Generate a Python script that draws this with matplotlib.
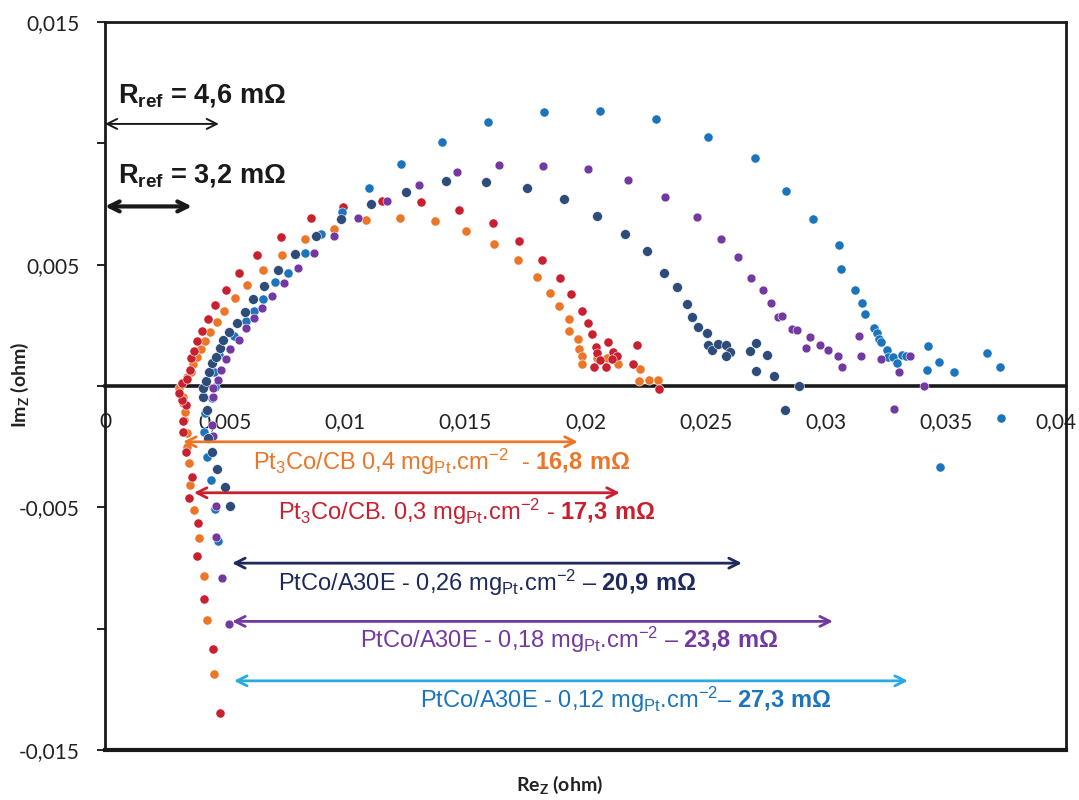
import numpy as np
import matplotlib
matplotlib.use("Agg")
import matplotlib.pyplot as plt
import matplotlib.transforms as mtransforms

plt.rcParams['mathtext.fontset'] = 'custom'
plt.rcParams['mathtext.rm'] = 'Liberation Sans'
plt.rcParams['mathtext.bf'] = 'Liberation Sans:bold'
plt.rcParams['mathtext.default'] = 'regular'

# ---- data (mOhm) ----
orange_re = [4.54, 4.24, 4.12, 3.91, 3.70, 3.54, 3.50, 3.41, 3.41, 3.29, 3.33, 3.25, 3.25, 3.08, 3.41,
             3.58, 3.66, 3.83, 4.00, 4.16, 4.37, 4.66, 4.95, 5.41, 5.91, 6.58, 7.37, 8.32, 9.53, 10.86,
             12.28, 13.73, 15.02, 16.19, 17.19, 17.98, 18.52, 18.89, 19.31, 19.31, 19.68, 19.73, 19.85,
             19.85, 20.47, 20.89, 21.35, 22.26, 22.22, 22.64, 23.01]
orange_im = [-11.87, -9.64, -7.83, -6.26, -5.11, -4.08, -3.17, -2.51, -1.94, -1.40, -1.07, -0.70, -0.45,
             -0.08, 0.37, 0.58, 0.91, 1.19, 1.52, 1.85, 2.22, 2.64, 3.09, 3.63, 4.16, 4.78, 5.40, 6.06,
             6.47, 6.84, 6.92, 6.80, 6.39, 5.85, 5.19, 4.49, 3.83, 3.30, 2.76, 2.27, 1.94, 1.52, 1.24,
             0.91, 1.15, 1.15, 0.91, 0.70, 0.21, 0.25, 0.25]

red_re = [4.79, 4.49, 4.12, 3.83, 3.87, 3.50, 3.62, 3.37, 3.25, 3.25, 3.37, 3.20, 3.08, 3.20, 3.41,
          3.54, 3.58, 3.70, 3.83, 4.04, 4.29, 4.58, 5.04, 5.58, 6.33, 7.32, 8.57, 9.90, 11.53, 13.15,
          14.73, 16.15, 17.23, 18.19, 18.93, 19.39, 19.85, 20.10, 20.27, 20.93, 20.43, 20.47, 20.60,
          20.85, 20.35, 21.14, 21.31, 21.10, 22.14, 21.97, 23.05]
red_im = [-13.47, -10.84, -8.78, -7.00, -5.64, -4.61, -3.75, -2.72, -1.90, -1.44, -0.78, -0.58, -0.29,
          0.12, 0.29, 0.66, 1.15, 1.44, 1.85, 2.27, 2.76, 3.34, 3.96, 4.66, 5.40, 6.14, 6.92, 7.38,
          7.62, 7.58, 7.25, 6.72, 5.97, 5.19, 4.45, 3.79, 3.09, 2.60, 2.14, 1.81, 1.61, 1.36, 1.07,
          0.78, 0.78, 1.40, 1.24, 1.11, 1.69, 0.91, -0.12]

navy_re = [5.20, 4.99, 4.66, 4.45, 4.29, 4.24, 4.08, 4.08, 4.20, 4.33, 4.45, 4.62, 4.79, 4.91, 5.16,
           5.49, 5.83, 6.16, 6.62, 7.20, 7.91, 8.78, 9.82, 11.07, 12.53, 14.19, 15.86, 17.56, 19.10,
           20.47, 21.64, 22.56, 23.26, 23.80, 24.22, 24.43, 24.68, 25.05, 25.09, 25.26, 25.51, 25.84,
           26.01, 25.84, 26.84, 27.09, 27.55, 27.09, 27.84, 28.88, 28.30]
navy_im = [-4.94, -4.16, -3.42, -2.72, -2.14, -0.99, -0.45, -0.08, 0.21, 0.58, 0.95, 1.19, 1.57, 1.90,
           2.22, 2.60, 3.05, 3.58, 4.12, 4.78, 5.44, 6.18, 6.88, 7.50, 7.99, 8.45, 8.41, 8.16, 7.70,
           7.00, 6.26, 5.56, 4.66, 4.08, 3.38, 2.84, 2.43, 2.18, 1.69, 1.48, 1.73, 1.69, 1.40, 1.24,
           1.44, 1.77, 1.28, 0.62, 0.41, 0.00, -0.99]

purple_re = [5.16, 4.87, 4.62, 4.62, 4.49, 4.45, 4.49, 4.49, 4.70, 4.83, 5.04, 5.20, 5.58, 5.87, 6.20,
             6.53, 6.95, 7.45, 8.03, 8.70, 9.53, 10.53, 11.74, 13.07, 14.65, 16.40, 18.23, 20.10,
             21.76, 23.30, 24.64, 25.63, 26.34, 26.88, 27.38, 27.72, 28.01, 28.17, 28.59, 28.80,
             29.34, 29.17, 29.75, 30.09, 30.50, 30.67, 31.38, 31.46, 32.29, 33.04, 33.50, 34.08, 32.83]
purple_im = [-9.81, -7.91, -6.22, -4.94, -2.06, -1.61, -0.45, -0.08, 0.25, 0.66, 1.11, 1.52, 1.90,
             2.39, 2.80, 3.21, 3.71, 4.24, 4.86, 5.48, 6.18, 6.92, 7.62, 8.28, 8.82, 9.11, 9.06, 8.94,
             8.49, 7.79, 6.96, 6.06, 5.32, 4.45, 3.96, 3.42, 2.84, 2.88, 2.35, 2.31, 2.02, 1.57, 1.69,
             1.48, 1.24, 0.78, 2.06, 1.24, 1.11, 0.58, 1.24, 0.00, -0.95]

blue_re = [4.70, 4.58, 4.41, 4.24, 4.12, 4.16, 4.45, 4.58, 4.54, 4.74, 5.20, 5.37, 5.87, 6.20, 6.58,
           7.07, 7.62, 8.32, 8.99, 9.86, 10.99, 12.32, 14.02, 15.94, 18.27, 20.60, 22.93, 25.09,
           27.05, 28.34, 29.46, 30.55, 30.63, 31.21, 31.50, 31.63, 32.00, 32.13, 32.21, 32.29, 32.54,
           32.58, 32.79, 32.96, 33.17, 33.33, 34.25, 34.21, 34.71, 35.33, 36.70, 37.25, 37.29, 34.75]
blue_im = [-6.39, -5.07, -3.87, -2.93, -1.90, -1.11, -0.49, -0.04, 0.58, 1.28, 1.52, 2.06, 2.68, 3.09,
           3.58, 4.29, 4.66, 5.48, 6.26, 7.17, 8.16, 9.15, 10.05, 10.88, 11.29, 11.33, 11.00, 10.26,
           9.39, 8.03, 6.88, 5.81, 4.82, 3.96, 3.42, 2.97, 2.39, 2.18, 1.94, 1.81, 1.48, 1.19, 1.19,
           0.95, 1.28, 1.24, 1.65, 0.66, 0.99, 0.58, 1.36, 0.78, -1.32, -3.34]

x_ticks = [0, 0.005, 0.01, 0.015, 0.02, 0.025, 0.03, 0.035, 0.04]
x_tick_labels = ['0', '0,005', '0,01', '0,015', '0,02', '0,025', '0,03', '0,035', '0,04']
y_ticks = [-0.015, -0.01, -0.005, 0, 0.005, 0.01, 0.015]
y_tick_labels = ['-0,015', '', '-0,005', '', '0,005', '', '0,015']

# annotation values (ohm)
rref_labels = ['R$_{ref}$ = 4,6 mΩ', 'R$_{ref}$ = 3,2 mΩ']
rref_end = [0.00474, 0.00362]
rref_y = [0.0108, 0.0074]
rref_text_y = [0.0117, 0.0084]

series_labels = [
    'Pt$_3$Co/CB 0,4 mg$_{Pt}$.cm$^{-2}$  - $\\mathbf{16{,}8\\ mΩ}$',
    'Pt$_3$Co/CB. 0,3 mg$_{Pt}$.cm$^{-2}$ - $\\mathbf{17{,}3\\ mΩ}$',
    'PtCo/A30E - 0,26 mg$_{Pt}$.cm$^{-2}$ – $\\mathbf{20{,}9\\ mΩ}$',
    'PtCo/A30E - 0,18 mg$_{Pt}$.cm$^{-2}$ – $\\mathbf{23{,}8\\ mΩ}$',
    'PtCo/A30E - 0,12 mg$_{Pt}$.cm$^{-2}$– $\\mathbf{27{,}3\\ mΩ}$',
]
arrow_start = [0.00325, 0.00370, 0.00529, 0.00529, 0.00537]
arrow_end = [0.01968, 0.02143, 0.02651, 0.03030, 0.03342]
arrow_y = [-0.0023, -0.0044, -0.0073, -0.0097, -0.01215]
label_x = [0.00616, 0.00720, 0.00720, 0.01061, 0.01311]
label_y = [-0.00346, -0.00552, -0.00845, -0.01080, -0.01327]

c_orange = '#EB7628'
c_red = '#C8202F'
c_navy = '#2D4C79'
c_purple = '#7339A0'
c_blue = '#1C75BC'
arrow_colors = [c_orange, c_red, '#1F2A5C', c_purple, '#29ABE2']
text_colors = [c_orange, c_red, '#1F2A5C', c_purple, c_blue]

fig = plt.figure(figsize=(10.79, 8.0), dpi=100)
ax = fig.add_axes([105/1079, 50/800, 961/1079, 728/800])

series = [(orange_re, orange_im, c_orange, 6.6),
          (red_re, red_im, c_red, 6.6),
          (blue_re, blue_im, c_blue, 6.6),
          (purple_re, purple_im, c_purple, 6.4),
          (navy_re, navy_im, c_navy, 7.1)]
for re_, im_, col, ms in series:
    ax.plot(np.array(re_) * 1e-3, np.array(im_) * 1e-3, linestyle='none', marker='o',
            ms=ms, mfc=col, mec='white', mew=0.4, zorder=3)

ax.set_xlim(0, 0.04)
ax.set_ylim(-0.015, 0.015)

for s in ['left', 'right', 'top']:
    ax.spines[s].set_linewidth(2.0)
    ax.spines[s].set_color('#1a1a1a')
ax.spines['bottom'].set_position(('data', 0))
ax.spines['bottom'].set_linewidth(2.6)
ax.spines['bottom'].set_color('#1a1a1a')
ax.axhline(-0.015, color='#1a1a1a', lw=3.0, clip_on=False, zorder=5)

ax.set_xticks(x_ticks)
ax.set_xticklabels(x_tick_labels)
ax.set_yticks(y_ticks)
ax.set_yticklabels(y_tick_labels)
ax.tick_params(axis='x', length=0, pad=19, labelsize=15, labelcolor='#222222')
ax.tick_params(axis='y', direction='out', length=6, width=1.2, pad=12, labelsize=15,
               labelcolor='#222222')
for lab in ax.get_xticklabels() + ax.get_yticklabels():
    lab.set_family('Lato')
# keep the last x label inside the figure
last = ax.get_xticklabels()[-1]
last.set_transform(last.get_transform() + mtransforms.ScaledTranslation(-10/100, 0, fig.dpi_scale_trans))

# R_ref annotations
lws = [1.4, 3.0]
for lab, xe, ya, yt, lw in zip(rref_labels, rref_end, rref_y, rref_text_y, lws):
    ax.annotate('', xy=(xe, ya), xytext=(0, ya),
                arrowprops=dict(arrowstyle='<->', color='#1a1a1a', lw=lw,
                                mutation_scale=18, shrinkA=0, shrinkB=0))
    ax.text(0.00054, yt, lab, fontsize=19.5, fontweight='bold', family='Liberation Sans',
            color='#1a1a1a', va='baseline', ha='left')

# series arrows and labels
for lab, x0, x1, ya, lx, ly, ac, tc in zip(series_labels, arrow_start, arrow_end, arrow_y,
                                             label_x, label_y, arrow_colors, text_colors):
    ax.annotate('', xy=(x1, ya), xytext=(x0, ya),
                arrowprops=dict(arrowstyle='<->', color=ac, lw=2.0,
                                mutation_scale=18, shrinkA=0, shrinkB=0), zorder=4)
    ax.text(lx, ly, lab, fontsize=17, family='Liberation Sans', color=tc,
            va='baseline', ha='left', zorder=6)

fig.text(20/1079, 1 - 385/800, 'Im$_Z$ (ohm)', rotation=90, fontsize=14, fontweight='bold',
         family='Lato', color='#222222', ha='center', va='center')
fig.text(560/1079, 1 - 785/800, 'Re$_Z$ (ohm)', fontsize=14, fontweight='bold',
         family='Lato', color='#222222', ha='center', va='center')

fig.savefig('out.png', dpi=100)
